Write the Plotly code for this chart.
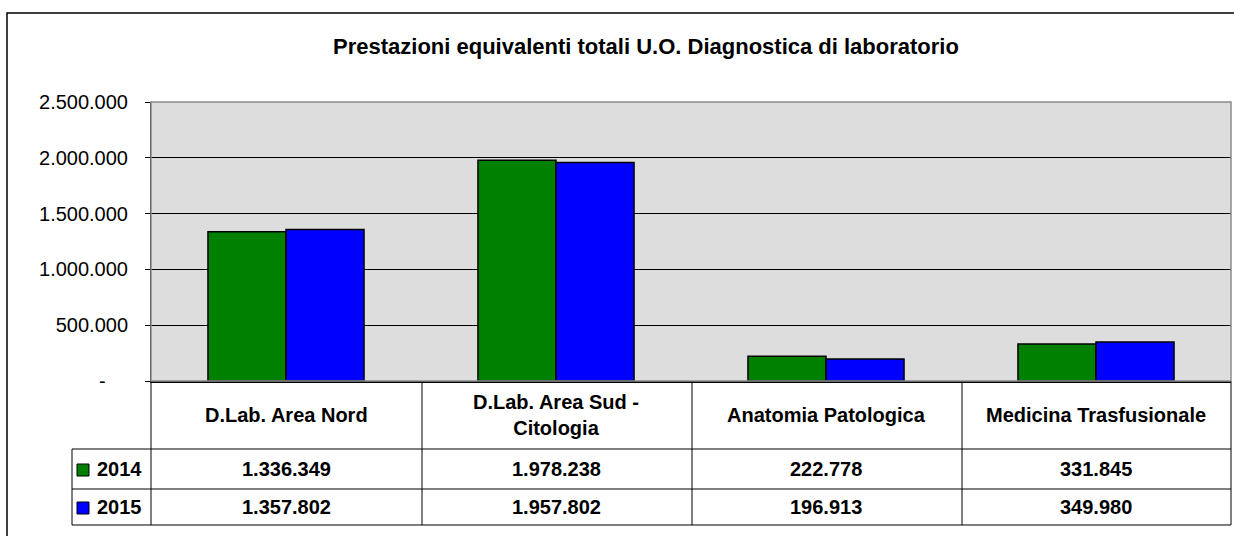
import plotly.graph_objects as go

categories = ["D.Lab. Area Nord", "D.Lab. Area Sud -<br>Citologia", "Anatomia Patologica", "Medicina Trasfusionale"]
series_names = ["2014", "2015"]
values_2014 = [1336349, 1978238, 222778, 331845]
values_2015 = [1357802, 1957802, 196913, 349980]
colors = ["#008000", "#0000FF"]
y_tickvals = [0, 500000, 1000000, 1500000, 2000000, 2500000]
y_ticktext = ["-\u00a0\u00a0\u00a0\u00a0", "500.000", "1.000.000", "1.500.000", "2.000.000", "2.500.000"]
title = "Prestazioni equivalenti totali U.O. Diagnostica di laboratorio"

W, H = 1234, 536
# plot area in page pixels
PL, PR, PT, PB = 151, 1231, 102, 381


def fx(px):
    """page pixel x -> paper x"""
    return (px - PL) / (PR - PL)


def fy(py):
    """page pixel y -> paper y"""
    return (PB - py) / (PB - PT)


def fmt(v):
    return f"{v:,}".replace(",", ".")


FONT = "Liberation Sans, Arial, sans-serif"

fig = go.Figure()
for name, vals, col in zip(series_names, [values_2014, values_2015], colors):
    fig.add_trace(go.Bar(
        x=categories, y=vals, name=name,
        marker=dict(color=col, line=dict(color="#000000", width=1.5)),
        showlegend=False,
    ))

shapes = []
line = dict(color="#000000", width=1)
# outer chart border
shapes.append(dict(type="rect", xref="paper", yref="paper",
                   x0=fx(7), x1=fx(1260), y0=fy(560), y1=fy(13),
                   line=dict(color="#000000", width=1.5), fillcolor="rgba(0,0,0,0)", layer="below"))
# table horizontal lines
for py in [449, 489, 525]:
    shapes.append(dict(type="line", xref="paper", yref="paper",
                       x0=fx(72), x1=fx(1231), y0=fy(py), y1=fy(py), line=line))
# table vertical lines
for px in [151, 422, 692, 962, 1231]:
    shapes.append(dict(type="line", xref="paper", yref="paper",
                       x0=fx(px), x1=fx(px), y0=fy(381), y1=fy(525), line=line))
shapes.append(dict(type="line", xref="paper", yref="paper",
                   x0=fx(72), x1=fx(72), y0=fy(449), y1=fy(525), line=line))
# legend keys
for py, col in [(470, colors[0]), (508, colors[1])]:
    shapes.append(dict(type="rect", xref="paper", yref="paper",
                       x0=fx(77), x1=fx(89), y0=fy(py + 6), y1=fy(py - 6),
                       line=dict(color="#000000", width=1), fillcolor=col))
# plot area gray border
shapes.append(dict(type="rect", xref="paper", yref="paper", x0=0, x1=1, y0=0, y1=1,
                   line=dict(color="#8c8c8c", width=1.5), fillcolor="rgba(0,0,0,0)"))

annotations = []
tfont = dict(family=FONT, size=20, color="#000000")
for i, cat in enumerate(categories):
    annotations.append(dict(x=cat, xref="x", y=fy(415), yref="paper", text=f"<b>{cat}</b>",
                            showarrow=False, font=tfont, xanchor="center", yanchor="middle"))
    annotations.append(dict(x=cat, xref="x", y=fy(469), yref="paper", text=f"<b>{fmt(values_2014[i])}</b>",
                            showarrow=False, font=tfont, xanchor="center", yanchor="middle"))
    annotations.append(dict(x=cat, xref="x", y=fy(507), yref="paper", text=f"<b>{fmt(values_2015[i])}</b>",
                            showarrow=False, font=tfont, xanchor="center", yanchor="middle"))
for name, py in zip(series_names, [469, 507]):
    annotations.append(dict(x=fx(95), xref="paper", y=fy(py), yref="paper", text=f"<b>{name}</b>",
                            showarrow=False, font=tfont, xanchor="left", yanchor="middle"))
annotations.append(dict(x=fx(646), xref="paper", y=fy(46), yref="paper", text=f"<b>{title}</b>",
                        showarrow=False, font=dict(family=FONT, size=22, color="#000000"),
                        xanchor="center", yanchor="middle"))

fig.update_layout(
    width=W, height=H,
    margin=dict(l=PL, r=W - PR, t=PT, b=H - PB, pad=0),
    paper_bgcolor="#FFFFFF", plot_bgcolor="#DDDDDD",
    barmode="group", bargap=0.422, bargroupgap=0,
    shapes=shapes, annotations=annotations,
    font=dict(family=FONT, color="#000000"),
    xaxis=dict(showticklabels=False, showgrid=False, zeroline=False, ticks="",
               showline=True, linecolor="#000000", linewidth=1.5),
    yaxis=dict(range=[0, 2500000], tickvals=y_tickvals, ticktext=y_ticktext,
               showgrid=True, gridcolor="#000000", gridwidth=1, zeroline=False,
               showline=True, linecolor="#000000", linewidth=1,
               ticks="outside", ticklen=5, tickcolor="#000000",
               tickfont=dict(family=FONT, size=20, color="#000000"), ticklabelstandoff=13),
)

fig.write_html("out.html",
               config={"displayModeBar": False},
               post_script="document.body.style.margin='0';document.body.style.overflow='hidden';")
